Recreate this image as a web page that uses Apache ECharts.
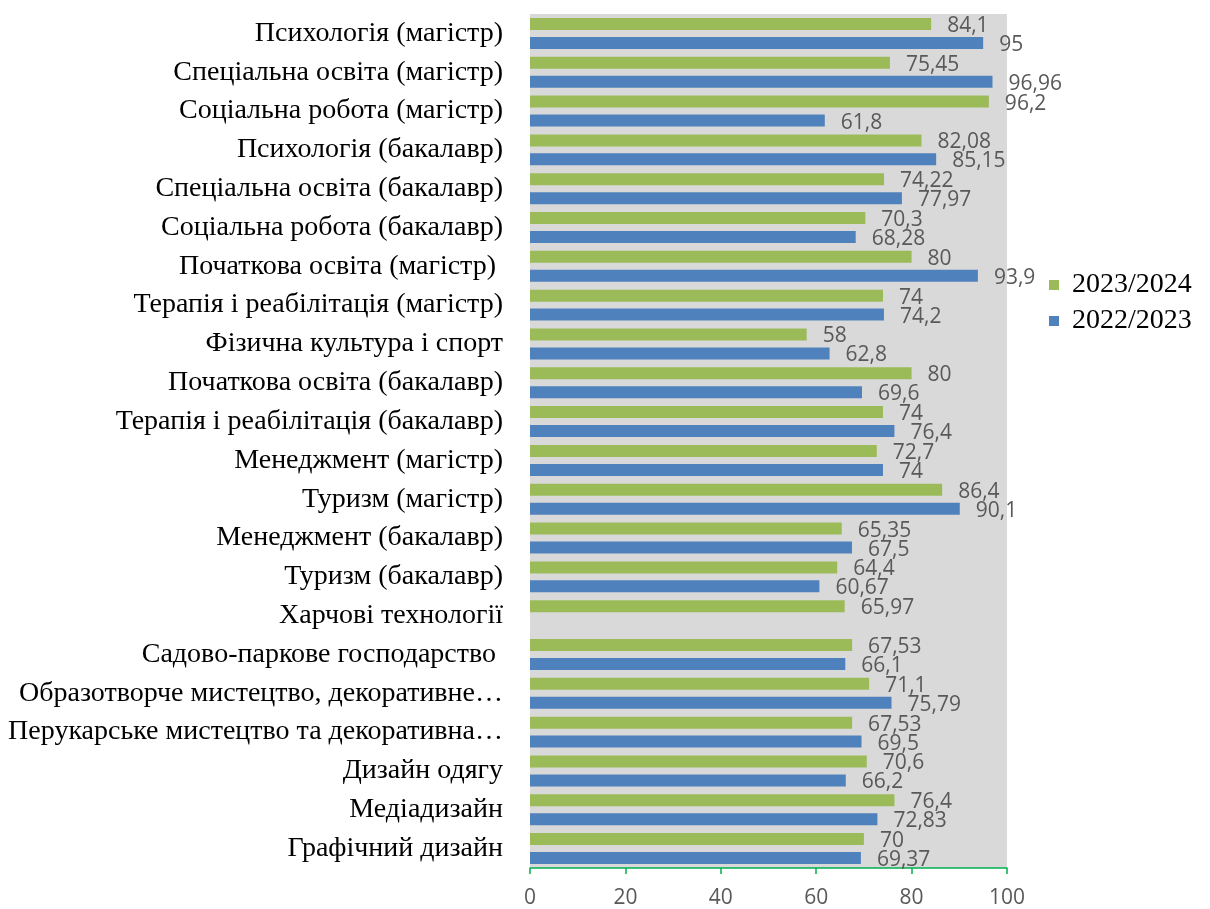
<!DOCTYPE html>
<html><head><meta charset="utf-8">
<script src="https://cdn.jsdelivr.net/npm/echarts@6/dist/echarts.min.js"></script>
<style>html,body{margin:0;padding:0;background:#fff}#c{width:1210px;height:909px}</style>
</head><body><div id="c"></div>
<script>
// categories listed bottom -> top (ECharts category order on y axis)
const categories = [
  'Графічний дизайн',
  'Медіадизайн',
  'Дизайн одягу',
  'Перукарське мистецтво та декоративна…',
  'Образотворче мистецтво, декоративне…',
  'Садово-паркове господарство ',
  'Харчові технології',
  'Туризм (бакалавр)',
  'Менеджмент (бакалавр)',
  'Туризм (магістр)',
  'Менеджмент (магістр)',
  'Терапія і реабілітація (бакалавр)',
  'Початкова освіта (бакалавр)',
  'Фізична культура і спорт',
  'Терапія і реабілітація (магістр)',
  'Початкова освіта (магістр) ',
  'Соціальна робота (бакалавр)',
  'Спеціальна освіта (бакалавр)',
  'Психологія (бакалавр)',
  'Соціальна робота (магістр)',
  'Спеціальна освіта (магістр)',
  'Психологія (магістр)'
];
const values2023_2024 = [70, 76.4, 70.6, 67.53, 71.1, 67.53, 65.97, 64.4, 65.35, 86.4, 72.7, 74, 80, 58, 74, 80, 70.3, 74.22, 82.08, 96.2, 75.45, 84.1];
const values2022_2023 = [69.37, 72.83, 66.2, 69.5, 75.79, 66.1, null, 60.67, 67.5, 90.1, 74, 76.4, 69.6, 62.8, 74.2, 93.9, 68.28, 77.97, 85.15, 61.8, 96.96, 95];
const xTicks = [0, 20, 40, 60, 80, 100];

const fmt = p => String(p.value).replace('.', ',');
const labelStyle = {
  show: true, position: 'right', distance: 16, offset: [0, 2],
  color: '#595959', fontFamily: 'Open Sans', fontSize: 21, formatter: fmt
};
const chart = echarts.init(document.getElementById('c'));
chart.setOption({
  animation: false,
  legend: {
    orient: 'vertical', left: 1044, top: 266, itemWidth: 10, itemHeight: 10, itemGap: 8,
    icon: 'rect',
    textStyle: { fontFamily: 'Liberation Serif', fontSize: 28, color: '#000', padding: [0, 0, 0, 8] },
    data: ['2023/2024', '2022/2023']
  },
  grid: {
    left: 530, right: 203, top: 14, bottom: 39, containLabel: false,
    show: true, backgroundColor: '#d9d9d9', borderWidth: 0
  },
  xAxis: {
    type: 'value', min: xTicks[0], max: xTicks[xTicks.length - 1], interval: 20,
    axisLine: { show: true, lineStyle: { color: '#00b050', width: 1.5 } },
    axisTick: { show: true, length: 6, lineStyle: { color: '#00b050', width: 1.5 } },
    splitLine: { show: false },
    axisLabel: { color: '#595959', fontFamily: 'Open Sans', fontSize: 21, margin: 20 }
  },
  yAxis: {
    type: 'category', data: categories,
    axisLine: { show: false }, axisTick: { show: false },
    axisLabel: { color: '#000', fontFamily: 'Liberation Serif', fontSize: 28, margin: 27 }
  },
  series: [
    { name: '2023/2024', type: 'bar', data: values2023_2024, barWidth: 12, barGap: '58%',
      itemStyle: { color: '#9bbb59' }, label: labelStyle },
    { name: '2022/2023', type: 'bar', data: values2022_2023, barWidth: 12,
      itemStyle: { color: '#4f81bd' }, label: labelStyle }
  ]
});
</script>
</body></html>
